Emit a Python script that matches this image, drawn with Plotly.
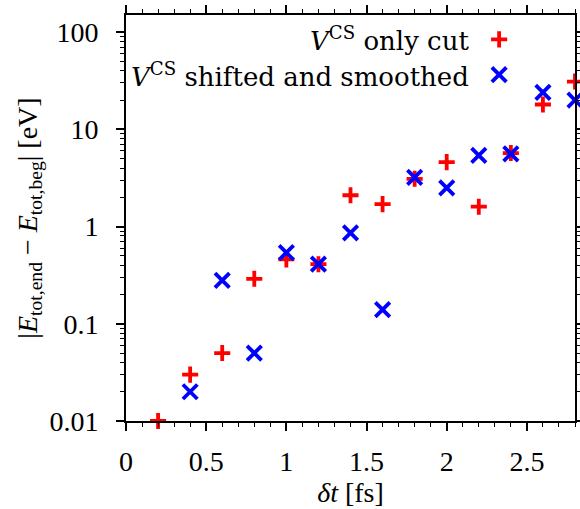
import plotly.graph_objects as go

dt = [0.2, 0.4, 0.6, 0.8, 1.0, 1.2, 1.4, 1.6, 1.8, 2.0, 2.2, 2.4, 2.6, 2.8]
cut = [0.01, 0.03, 0.05, 0.29, 0.46, 0.41, 2.1, 1.7, 3.1, 4.6, 1.6, 5.7, 18, 31]
dt_s = [0.4, 0.6, 0.8, 1.0, 1.2, 1.4, 1.6, 1.8, 2.0, 2.2, 2.4, 2.6, 2.8]
smooth = [0.02, 0.28, 0.05, 0.54, 0.41, 0.86, 0.14, 3.2, 2.5, 5.4, 5.6, 24, 20]
legend_names = ["<i>V</i><sup>CS</sup> only cut", "<i>V</i><sup>CS</sup> shifted and smoothed"]
x_ticks = [0, 0.5, 1, 1.5, 2, 2.5]
y_ticks = [0.01, 0.1, 1, 10, 100]
y_tick_labels = ["0.01", "0.1", "1", "10", "100"]

FONT = "Liberation Serif"
LEG_FONT = "DejaVu Serif"
FS = 28
RED = "#ff0000"
BLUE = "#0000ff"
plus = dict(symbol="cross-thin", size=11.5, color=RED, line=dict(color=RED, width=3.8))
cross = dict(symbol="x-thin", size=14.5, color=BLUE, line=dict(color=BLUE, width=3.8))

fig = go.Figure()
fig.add_trace(go.Scatter(x=dt, y=cut, mode="markers", marker=plus, cliponaxis=False, showlegend=False))
fig.add_trace(go.Scatter(x=dt_s, y=smooth, mode="markers", marker=cross, cliponaxis=False, showlegend=False))

# legend keys (gnuplot style: text then symbol), on an overlay axis in plot-fraction units
key_x = [0.831, 0.831]
key_y = [0.94, 0.853]
fig.add_trace(go.Scatter(x=[key_x[0]], y=[key_y[0]], mode="markers", marker=plus,
                         xaxis="x2", yaxis="y2", cliponaxis=False, showlegend=False))
fig.add_trace(go.Scatter(x=[key_x[1]], y=[key_y[1]], mode="markers", marker=cross,
                         xaxis="x2", yaxis="y2", cliponaxis=False, showlegend=False))
for name, yy in zip(legend_names, key_y):
    fig.add_annotation(x=0.768, y=yy, xref="paper", yref="paper", text=name, showarrow=False,
                       xanchor="right", yanchor="middle", font=dict(family=LEG_FONT, size=26, color="black"))

axis_common = dict(showline=True, linecolor="black", linewidth=2, mirror="ticks", ticks="outside",
                   tickcolor="black", tickwidth=1.5, ticklen=8, showgrid=False, zeroline=False,
                   tickfont=dict(family=FONT, size=FS, color="black"))
fig.update_layout(
    width=580, height=509,
    margin=dict(l=126, r=5, t=15, b=88, autoexpand=False),
    plot_bgcolor="white", paper_bgcolor="white",
    font=dict(family=FONT, size=FS, color="black"),
    xaxis=dict(range=[0, 2.8], tickvals=x_ticks, ticktext=[str(v) for v in x_ticks],
               minor=dict(dtick=0.1, ticks="outside", ticklen=4, tickcolor="black", tickwidth=1.2, showgrid=False),
               title=dict(text="<i>δt</i> [fs]", font=dict(family=FONT, size=FS), standoff=2),
               ticklabelstandoff=6, automargin=False,
               **axis_common),
    yaxis=dict(type="log", range=[-2, 2.176], tickvals=y_ticks, ticktext=y_tick_labels,
               minor=dict(dtick="D1", ticks="outside", ticklen=4, tickcolor="black", tickwidth=1.2, showgrid=False),
               title=dict(text="|<i>E</i><sub>tot,end</sub> − <i>E</i><sub>tot,beg</sub>| [eV]",
                          font=dict(family=FONT, size=FS), standoff=4),
               ticklabelstandoff=12, automargin=False,
               **axis_common),
    xaxis2=dict(overlaying="x", range=[0, 1], visible=False, fixedrange=True, automargin=False),
    yaxis2=dict(overlaying="y", range=[0, 1], visible=False, fixedrange=True, automargin=False),
)
fig.write_html("out.html", config={"displayModeBar": False},
               post_script="document.body.style.margin='0';")
